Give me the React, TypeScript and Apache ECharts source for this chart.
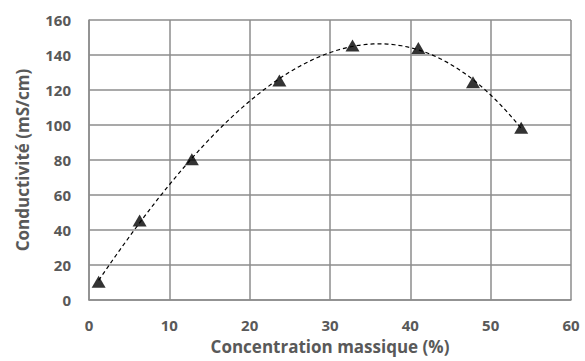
import React, { useEffect, useRef } from "react";
import * as echarts from "echarts";

const concentration = [1.2, 6.3, 12.8, 23.7, 32.8, 41.0, 47.8, 53.8];
const conductivity = [10.5, 45.5, 80.5, 125.5, 145.5, 144, 124.5, 98.5];
const xTitle = "Concentration massique (%)";
const yTitle = "Conductivité (mS/cm)";
const trendOrder = 3;
const trendSamples = 120;

function polyFit(xs: number[], ys: number[], order: number): number[] {
  const n = order + 1;
  const A: number[][] = [];
  for (let i = 0; i < n; i++) {
    const row: number[] = [];
    for (let j = 0; j < n; j++) {
      let s = 0;
      for (const x of xs) s += Math.pow(x, i + j);
      row.push(s);
    }
    let t = 0;
    xs.forEach((x, k) => (t += Math.pow(x, i) * ys[k]));
    row.push(t);
    A.push(row);
  }
  for (let c = 0; c < n; c++) {
    let p = c;
    for (let r = c + 1; r < n; r++) if (Math.abs(A[r][c]) > Math.abs(A[p][c])) p = r;
    [A[c], A[p]] = [A[p], A[c]];
    for (let r = 0; r < n; r++) {
      if (r === c) continue;
      const f = A[r][c] / A[c][c];
      for (let k = c; k <= n; k++) A[r][k] -= f * A[c][k];
    }
  }
  return A.map((row, i) => row[n] / row[i]);
}

export default function App() {
  const ref = useRef<HTMLDivElement>(null);
  useEffect(() => {
    if (!ref.current) return;
    const chart = echarts.init(ref.current, null, { renderer: "svg" });
    const coef = polyFit(concentration, conductivity, trendOrder);
    const x0 = Math.min(...concentration);
    const x1 = Math.max(...concentration);
    const trend: number[][] = [];
    for (let i = 0; i <= trendSamples; i++) {
      const x = x0 + ((x1 - x0) * i) / trendSamples;
      let y = 0;
      coef.forEach((c, k) => (y += c * Math.pow(x, k)));
      trend.push([x, y]);
    }
    const textColor = "#595959";
    const gridColor = "#8c8c8c";
    const font = "Open Sans";
    chart.setOption({
      animation: false,
      backgroundColor: "#ffffff",
      grid: { left: 89, right: 14, top: 20, bottom: 61 },
      xAxis: {
        type: "value",
        min: 0,
        max: 60,
        interval: 10,
        name: xTitle,
        nameLocation: "middle",
        nameGap: 38,
        nameTextStyle: { color: textColor, fontSize: 17, fontWeight: "bold", fontFamily: font },
        axisLine: { show: true, lineStyle: { color: gridColor, width: 1.5 } },
        axisTick: { show: false },
        splitLine: { show: true, lineStyle: { color: gridColor, width: 1.5 } },
        axisLabel: { color: textColor, fontSize: 15, fontWeight: "bold", fontFamily: font, margin: 17 },
      },
      yAxis: {
        type: "value",
        min: 0,
        max: 160,
        interval: 20,
        name: yTitle,
        nameLocation: "middle",
        nameGap: 58,
        nameTextStyle: { color: textColor, fontSize: 17, fontWeight: "bold", fontFamily: font },
        axisLine: { show: true, lineStyle: { color: gridColor, width: 1.5 } },
        axisTick: { show: false },
        splitLine: { show: true, lineStyle: { color: gridColor, width: 1.5 } },
        axisLabel: { color: textColor, fontSize: 15, fontWeight: "bold", fontFamily: font, margin: 18 },
      },
      series: [
        {
          type: "line",
          data: trend,
          showSymbol: false,
          symbol: "none",
          lineStyle: { color: "#000000", width: 1.2, type: [4, 3] },
          z: 2,
        },
        {
          type: "scatter",
          data: concentration.map((x, i) => [x, conductivity[i]]),
          symbol: "triangle",
          symbolSize: [14, 12],
          itemStyle: { color: "#000000" },
          z: 3,
        },
      ],
    });
    return () => chart.dispose();
  }, []);
  return <div ref={ref} style={{ position: "fixed", left: 0, top: 0, width: 585, height: 361 }} />;
}
